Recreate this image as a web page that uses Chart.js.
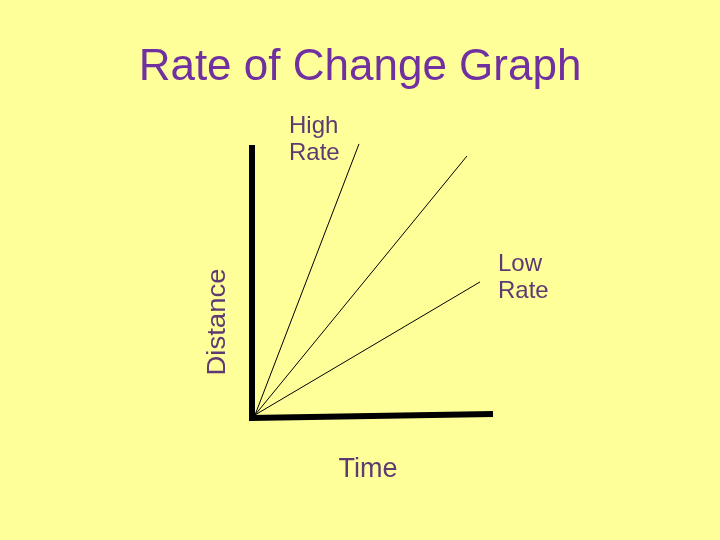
<!DOCTYPE html>
<html>
<head>
<meta charset="utf-8">
<script src="https://cdn.jsdelivr.net/npm/chart.js@4/dist/chart.umd.min.js"></script>
<style>
  html, body { margin: 0; padding: 0; background: #FFFF99; }
  #wrap { width: 720px; height: 540px; }
</style>
</head>
<body>
<div id="wrap"><canvas id="c" width="720" height="540"></canvas></div>
<script>
// ---- data (in chart units: time on x, distance on y) ----
const titleText = 'Rate of Change Graph';
const seriesNames = ['High Rate', 'Medium Rate', 'Low Rate'];
const originPoint = [1.6, 1.8];            // [time, distance] where lines start
const endTime = [43.2, 86.4, 91.6];        // time value at end of each line
const endDistance = [98.6, 94.3, 49.3];    // distance value at end of each line

const yAxisLineTime = [0.4, 0.4];
const yAxisLineDistance = [-0.4, 98.2];
const xAxisLineTime = [-0.6, 96.8];
const xAxisLineDistance = [0.7, 2.1];

const timeRange = [-100.4, 187.6];
const distanceRange = [0, 100];

const axisTitles = ['Time', 'Distance'];
const axisTitleTime = [46.8, -13.2];       // [Time label x, Distance label x]
const axisTitleDistance = [-17.8, 35.0];   // [Time label y, Distance label y]

const noteLines = [['High', 'Rate'], ['Low', 'Rate']];
const noteTime = [15.2, 98.8];
const noteDistance = [104.8, 55.5];

// ---- build datasets ----
const datasets = [];
datasets.push({
  label: 'Distance axis',
  data: yAxisLineTime.map((t, i) => ({ x: t, y: yAxisLineDistance[i] })),
  borderColor: '#000000', borderWidth: 6, borderCapStyle: 'butt'
});
datasets.push({
  label: 'Time axis',
  data: xAxisLineTime.map((t, i) => ({ x: t, y: xAxisLineDistance[i] })),
  borderColor: '#000000', borderWidth: 6, borderCapStyle: 'butt'
});
seriesNames.forEach((name, i) => {
  datasets.push({
    label: name,
    data: [{ x: originPoint[0], y: originPoint[1] }, { x: endTime[i], y: endDistance[i] }],
    borderColor: '#000000', borderWidth: 1
  });
});
datasets.forEach(d => {
  d.showLine = true; d.pointRadius = 0; d.pointHoverRadius = 0; d.fill = false; d.clip = false; d.tension = 0;
});

const labelColor = '#5e3a72';

const textPlugin = {
  id: 'texts',
  afterDraw(chart) {
    const ctx = chart.ctx;
    const xs = chart.scales.x, ys = chart.scales.y;
    ctx.save();
    ctx.fillStyle = labelColor;
    ctx.textBaseline = 'middle';
    // annotations
    ctx.font = '24px "Liberation Sans", Arial, sans-serif';
    ctx.textAlign = 'left';
    noteLines.forEach((lines, i) => {
      const px = xs.getPixelForValue(noteTime[i]);
      const py = ys.getPixelForValue(noteDistance[i]);
      lines.forEach((ln, j) => ctx.fillText(ln, px, py + j * 27));
    });
    // axis titles
    ctx.textAlign = 'center';
    ctx.font = '27px "Liberation Sans", Arial, sans-serif';
    ctx.fillText(axisTitles[0], xs.getPixelForValue(axisTitleTime[0]), ys.getPixelForValue(axisTitleDistance[0]));
    ctx.save();
    ctx.font = '25px "Liberation Sans", Arial, sans-serif';
    ctx.translate(xs.getPixelForValue(axisTitleTime[1]), ys.getPixelForValue(axisTitleDistance[1]));
    ctx.rotate(-Math.PI / 2);
    ctx.scale(1.1, 1);
    ctx.fillText(axisTitles[1], 0, 0);
    ctx.restore();
    ctx.restore();
  }
};

new Chart(document.getElementById('c'), {
  type: 'scatter',
  data: { datasets },
  options: {
    responsive: false,
    animation: false,
    events: [],
    layout: { padding: { left: 0, right: 0, top: 0, bottom: 120 } },
    scales: {
      x: { type: 'linear', min: timeRange[0], max: timeRange[1], display: false },
      y: { type: 'linear', min: distanceRange[0], max: distanceRange[1], display: false }
    },
    plugins: {
      legend: { display: false },
      tooltip: { enabled: false },
      title: {
        display: true,
        text: titleText,
        color: '#7030A0',
        font: { family: '"Liberation Sans", Arial, sans-serif', size: 44, weight: 'normal', lineHeight: 1.2 },
        padding: { top: 41, bottom: 46.2 }
      }
    }
  },
  plugins: [textPlugin]
});
</script>
</body>
</html>
